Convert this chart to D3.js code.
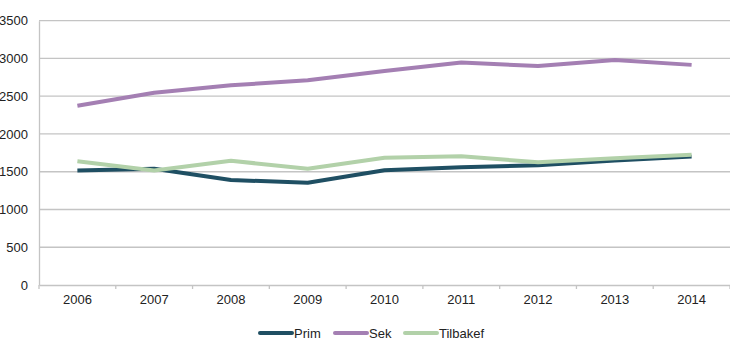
<!DOCTYPE html>
<html><head><meta charset="utf-8">
<script src="https://cdn.jsdelivr.net/npm/d3@7"></script>
<style>body{margin:0;background:#fff}svg{display:block}text{font-family:"Liberation Sans",Arial,sans-serif}</style>
</head><body><svg id="c" width="730" height="357"></svg>
<script>
const years = ["2006","2007","2008","2009","2010","2011","2012","2013","2014"];
const prim = [1515,1540,1390,1355,1520,1560,1585,1650,1700];
const sek = [2375,2545,2645,2710,2835,2945,2900,2980,2915];
const tilbakef = [1640,1515,1645,1540,1685,1705,1625,1680,1725];
const yTicks = [0,500,1000,1500,2000,2500,3000,3500];
const seriesNames = ["Prim","Sek","Tilbakef"];
const colors = ["#1f4f63","#a47fb3","#b2d1a9"];
const series = [prim, sek, tilbakef];

const svg = d3.select("#c");
const m = {l:39, r:730, t:20.7, b:285};
const x = d3.scaleBand().domain(years).range([m.l, m.r]);
const y = d3.scaleLinear().domain([0,3500]).range([m.b, m.t]);

// gridlines
svg.append("g").selectAll("line").data(yTicks.filter(d=>d>0)).join("line")
  .attr("x1", m.l).attr("x2", m.r).attr("y1", d=>y(d)).attr("y2", d=>y(d))
  .attr("stroke","#c4c4c4").attr("stroke-width",1.3);

// y axis
const ya = svg.append("g").attr("transform",`translate(${m.l},0)`)
  .call(d3.axisLeft(y).tickValues(yTicks).tickFormat(d3.format("d")).tickSize(0).tickPadding(11));
ya.select(".domain").attr("stroke","#c4c4c4").attr("stroke-width",1.3);
ya.selectAll("text").attr("font-size",13).attr("fill","#222");

// x axis
const xa = svg.append("g").attr("transform",`translate(0,${m.b})`)
  .call(d3.axisBottom(x).tickSize(0).tickPadding(10));
xa.select(".domain").attr("stroke","#c4c4c4").attr("stroke-width",1.3);
xa.selectAll("text").attr("font-size",13).attr("fill","#222");
const bounds = years.map(d=>x(d)).concat([m.r]);
svg.append("g").selectAll("line").data(bounds).join("line")
  .attr("x1",d=>d).attr("x2",d=>d).attr("y1",m.b).attr("y2",m.b+4)
  .attr("stroke","#c4c4c4").attr("stroke-width",1.3);

// lines
const line = d3.line().x((d,i)=>x(years[i])+x.bandwidth()/2).y(d=>y(d));
series.forEach((s,k)=>{
  svg.append("path").datum(s).attr("d",line).attr("fill","none")
    .attr("stroke",colors[k]).attr("stroke-width",4).attr("stroke-linejoin","round");
});

// legend
const legX = [260,335,405];
seriesNames.forEach((n,k)=>{
  const g = svg.append("g").attr("transform",`translate(${legX[k]},333)`);
  g.append("line").attr("x1",0).attr("x2",32).attr("y1",0).attr("y2",0)
    .attr("stroke",colors[k]).attr("stroke-width",4).attr("stroke-linecap","round");
  g.append("text").attr("x",34).attr("y",5).attr("font-size",13).attr("fill","#222").text(n);
});
</script></body></html>
